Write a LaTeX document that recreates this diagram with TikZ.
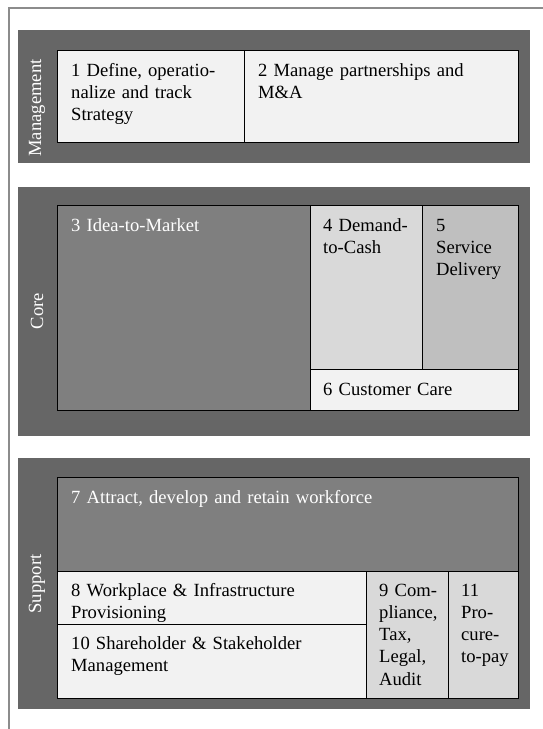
\documentclass[tikz,border=0pt]{standalone}
\usepackage{fontspec}
\setmainfont{Liberation Serif}
\usetikzlibrary{calc}
\definecolor{bandgray}{HTML}{666666}
\definecolor{midgray}{HTML}{7F7F7F}
\definecolor{paler}{HTML}{F2F2F2}
\definecolor{pale}{HTML}{D9D9D9}
\definecolor{silver}{HTML}{BFBFBF}
\definecolor{framegray}{HTML}{8C8C8C}
\tikzset{
  band/.style={draw=none, fill=bandgray, inner sep=0pt, anchor=north west},
  cell/.style={draw=black, line width=1.2pt, inner sep=0pt, anchor=north west},
  txt/.style={inner sep=0pt, anchor=base west, align=left, text width=#1,
    font=\fontsize{18.6}{22.3}\selectfont},
  txt/.default=200pt,
  side/.style={inner sep=0pt, rotate=90, text=white,
    font=\fontsize{18.6}{22.3}\selectfont},
}
\begin{document}
\begin{tikzpicture}[x=1pt,y=-1pt]
\useasboundingbox (0,0) rectangle (543,729);
% page frame
\draw[framegray, line width=2pt] (9,729) -- (9,8) -- (543,8);

% ---- Management layer
\node[band, minimum width=512pt, minimum height=133pt] (mband) at (18,30) {};
\node[side] (mlabel) at (37,108) {Management};
\node[cell, fill=paler, minimum width=187pt, minimum height=92pt] (b1) at (57,50) {};
\node[cell, fill=paler, minimum width=274pt, minimum height=92pt] (b2) at (244,50) {};
\node[txt=170pt] (t1) at ($(b1.north west)+(14,26)$) {1 Define, operatio-\\nalize and track\\Strategy};
\node[txt=250pt] (t2) at ($(b2.north west)+(14,26)$) {2 Manage partnerships and\\M\&A};

% ---- Core layer
\node[band, minimum width=512pt, minimum height=249pt] (cband) at (18,187) {};
\node[side] (clabel) at (37,311) {Core};
\node[cell, fill=midgray, minimum width=253pt, minimum height=205pt] (b3) at (57,205) {};
\node[cell, fill=pale, minimum width=112pt, minimum height=164pt] (b4) at (310,205) {};
\node[cell, fill=silver, minimum width=96pt, minimum height=164pt] (b5) at (422,205) {};
\node[cell, fill=paler, minimum width=208pt, minimum height=41pt] (b6) at (310,369) {};
\node[txt=230pt, text=white] (t3) at ($(b3.north west)+(14,26)$) {3 Idea-to-Market};
\node[txt=100pt] (t4) at ($(b4.north west)+(13,26)$) {4 Demand-\\to-Cash};
\node[txt=90pt] (t5) at ($(b5.north west)+(14,26)$) {5\\Service\\Delivery};
\node[txt=190pt] (t6) at ($(b6.north west)+(13,26)$) {6 Customer Care};

% ---- Support layer
\node[band, minimum width=512pt, minimum height=251pt] (sband) at (18,458) {};
\node[side] (slabel) at (37,584) {Support};
\node[cell, fill=midgray, minimum width=461pt, minimum height=94pt] (b7) at (57,477) {};
\node[cell, fill=paler, minimum width=309pt, minimum height=53pt] (b8) at (57,571) {};
\node[cell, fill=paler, minimum width=309pt, minimum height=74pt] (b10) at (57,624) {};
\node[cell, fill=pale, minimum width=82pt, minimum height=127pt] (b9) at (366,571) {};
\node[cell, fill=pale, minimum width=70pt, minimum height=127pt] (b11) at (448,571) {};
\node[txt=440pt, text=white] (t7) at ($(b7.north west)+(14,26)$) {7 Attract, develop and retain workforce};
\node[txt=290pt] (t8) at ($(b8.north west)+(14,25)$) {8 Workplace \& Infrastructure\\Provisioning};
\node[txt=290pt] (t10) at ($(b10.north west)+(14,25)$) {10 Shareholder \& Stakeholder\\Management};
\node[txt=75pt] (t9) at ($(b9.north west)+(13,25)$) {9 Com-\\pliance,\\Tax,\\Legal,\\Audit};
\node[txt=65pt] (t11) at ($(b11.north west)+(13,25)$) {11\\Pro-\\cure-\\to-pay};
\end{tikzpicture}
\end{document}
